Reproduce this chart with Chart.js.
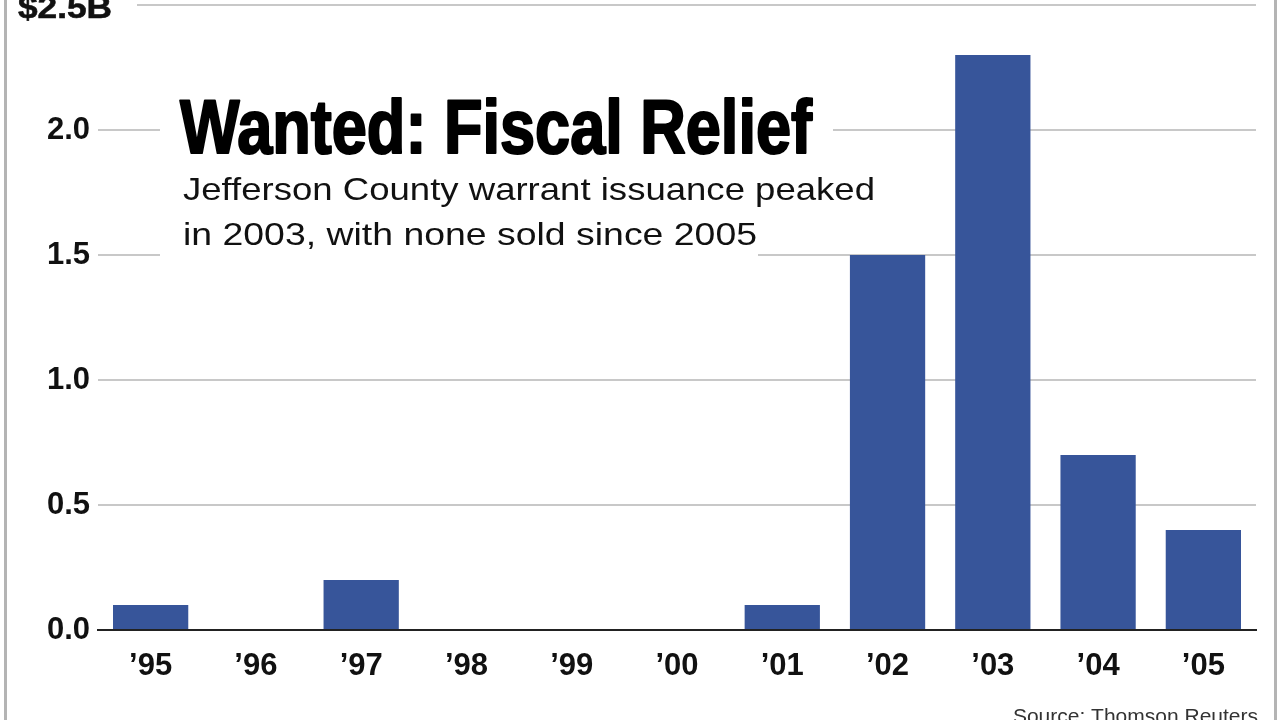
<!DOCTYPE html>
<html>
<head>
<meta charset="utf-8">
<script src="https://cdn.jsdelivr.net/npm/chart.js@4.4.0/dist/chart.umd.min.js"></script>
<style>
  html, body { margin: 0; padding: 0; background: #ffffff; }
  #wrap { position: relative; width: 1280px; height: 720px; overflow: hidden; }
  canvas { display: block; }
</style>
</head>
<body>
<div id="wrap"><canvas id="c" width="1280" height="720"></canvas></div>
<script>
// ---- data ----
const years = ['\u201995', '\u201996', '\u201997', '\u201998', '\u201999', '\u201900', '\u201901', '\u201902', '\u201903', '\u201904', '\u201905'];
const issuance = [0.1, 0, 0.2, 0, 0, 0, 0.1, 1.5, 2.3, 0.7, 0.4];
const yTickValues = [0, 0.5, 1.0, 1.5, 2.0, 2.5];
const yTickLabels = ['0.0', '0.5', '1.0', '1.5', '2.0', '$2.5B'];
const titleText = 'Wanted: Fiscal Relief';
const subtitleLines = ['Jefferson County warrant issuance peaked', 'in 2003, with none sold since 2005'];
const sourceText = 'Source: Thomson Reuters';

const BAR = '#37559a';
const FONT = "'Liberation Sans', Arial, Helvetica, sans-serif";

function drawFitted(ctx, text, x, baseline, font, targetWidth, color, stroke) {
  ctx.save();
  ctx.font = font;
  ctx.textAlign = 'left';
  ctx.textBaseline = 'alphabetic';
  const w = ctx.measureText(text).width;
  const sx = targetWidth / w;
  ctx.translate(x, baseline);
  ctx.scale(sx, 1);
  ctx.fillStyle = color;
  ctx.fillText(text, 0, 0);
  if (stroke) {
    ctx.strokeStyle = color;
    ctx.lineWidth = stroke;
    ctx.lineJoin = 'round';
    ctx.strokeText(text, 0, 0);
  }
  ctx.restore();
}

const annotations = {
  id: 'annotations',
  beforeDraw(chart) {
    const ctx = chart.ctx;
    ctx.save();
    ctx.fillStyle = '#ffffff';
    ctx.fillRect(0, 0, chart.width, chart.height);
    ctx.restore();
  },
  afterDatasetsDraw(chart) {
    const ctx = chart.ctx;
    const y = chart.scales.y;
    ctx.save();
    // white knock-outs behind text blocks
    ctx.fillStyle = '#ffffff';
    ctx.fillRect(160, 92, 673, 68);
    ctx.fillRect(160, 172, 740, 36);
    ctx.fillRect(160, 214, 598, 48);
    // top tick label
    const topPix = y.getPixelForValue(yTickValues[yTickValues.length - 1]);
    ctx.fillRect(8, topPix - 14, 129, 34);
    ctx.restore();
    const lbl = yTickLabels[yTickLabels.length - 1];
    drawFitted(ctx, lbl, 18, topPix + 13, 'bold 31px ' + FONT, 94, '#111111', 0.6);

    // title
    drawFitted(ctx, titleText, 180, 153, 'bold 76px ' + FONT, 632, '#000000', 2.2);
    // subtitle
    drawFitted(ctx, subtitleLines[0], 183, 200, '32px ' + FONT, 692, '#111111', 0);
    drawFitted(ctx, subtitleLines[1], 183, 245, '32px ' + FONT, 574, '#111111', 0);

    // source
    ctx.save();
    ctx.font = '21px ' + FONT;
    ctx.fillStyle = '#333333';
    ctx.textAlign = 'right';
    ctx.textBaseline = 'alphabetic';
    ctx.fillText(sourceText, 1258, 723);
    ctx.restore();

    // frame lines
    ctx.save();
    ctx.strokeStyle = '#b4b4b4';
    ctx.lineWidth = 3;
    ctx.beginPath();
    ctx.moveTo(5.5, 0); ctx.lineTo(5.5, 720);
    ctx.moveTo(1275.5, 0); ctx.lineTo(1275.5, 720);
    ctx.stroke();
    ctx.restore();
  }
};

new Chart(document.getElementById('c'), {
  type: 'bar',
  data: {
    labels: years,
    datasets: [{
      data: issuance,
      backgroundColor: BAR,
      borderWidth: 0,
      categoryPercentage: 1.0,
      barPercentage: 0.715
    }]
  },
  options: {
    responsive: false,
    animation: false,
    devicePixelRatio: 1,
    layout: { padding: { top: 5, right: 24, left: 0, bottom: 0 } },
    plugins: {
      legend: { display: false },
      tooltip: { enabled: false },
      title: { display: false }
    },
    scales: {
      x: {
        grid: { display: false, drawTicks: false },
        border: { display: true, color: '#222222', width: 2 },
        ticks: {
          color: '#111111',
          font: { family: FONT, size: 31, weight: 'bold' },
          padding: 18,
          maxRotation: 0,
          autoSkip: false
        },
        afterFit(scale) { scale.height = 90; }
      },
      y: {
        min: 0,
        max: 2.5,
        afterBuildTicks(scale) {
          scale.ticks = yTickValues.map(v => ({ value: v }));
        },
        grid: {
          drawTicks: false,
          color: ctx => (ctx.tick && ctx.tick.value === 0) ? 'rgba(0,0,0,0)' : '#c8c8c8',
          lineWidth: 2
        },
        border: { display: false },
        ticks: {
          color: '#111111',
          font: { family: FONT, size: 31, weight: 'bold' },
          padding: 8,
          callback(value) {
            const i = yTickValues.indexOf(value);
            if (i === yTickValues.length - 1) return '';
            return i >= 0 ? yTickLabels[i] : '';
          }
        },
        afterFit(scale) { scale.width = 98; scale.paddingTop = 0; }
      }
    }
  },
  plugins: [annotations]
});
</script>
</body>
</html>
